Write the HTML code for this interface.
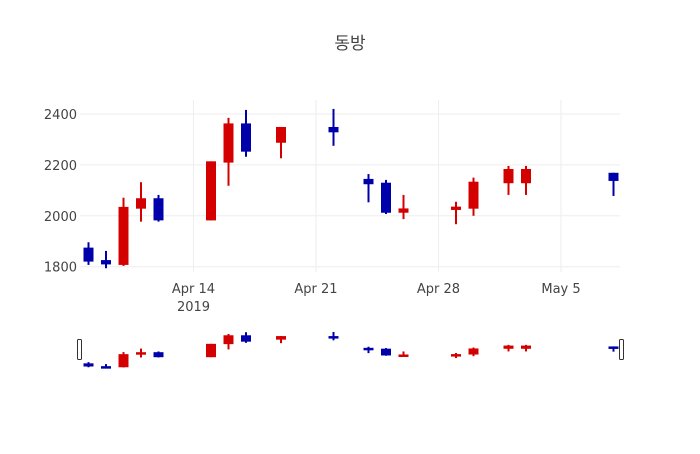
<!DOCTYPE html>
<html><head><meta charset="utf-8">
<style>
body{margin:0;background:#fff;font-family:"DejaVu Sans","Noto Sans CJK KR",sans-serif;}
svg text{font-family:"DejaVu Sans","Noto Sans CJK KR",sans-serif;}
</style></head>
<body>
<svg id="chart" width="700" height="450" xmlns="http://www.w3.org/2000/svg">
<rect width="700" height="450" fill="#fff"/>
<text x="350" y="49" text-anchor="middle" font-size="17" fill="#444">동방</text>
<g id="grid"></g>
<g id="candles"></g>
<g id="axes"></g>
<g id="slider"></g>
</svg>
<script>
const dates = ["2019-04-08","2019-04-09","2019-04-10","2019-04-11","2019-04-12","2019-04-15","2019-04-16","2019-04-17","2019-04-19","2019-04-22","2019-04-24","2019-04-25","2019-04-26","2019-04-29","2019-04-30","2019-05-02","2019-05-03","2019-05-08"];
const opens  = [1875,1826,1807,2028,2069,1982,2209,2363,2287,2349,2145,2130,2012,2023,2028,2128,2128,2169];
const highs  = [1896,1862,2071,2132,2082,2214,2385,2416,2349,2420,2164,2141,2082,2055,2150,2196,2196,2169];
const lows   = [1807,1794,1803,1977,1977,1982,2118,2232,2226,2275,2053,2007,1987,1967,2000,2082,2082,2078];
const closes = [1820,1809,2035,2069,1982,2214,2363,2252,2349,2328,2124,2012,2029,2036,2134,2184,2184,2137];
const yTicks = [1800,2000,2200,2400];
const xTickDates = ["2019-04-14","2019-04-21","2019-04-28","2019-05-05"];
const xTickLabels = ["Apr 14","Apr 21","Apr 28","May 5"];

const NS="http://www.w3.org/2000/svg";
const DAY=86400000;
const t0=Date.parse("2019-04-14");
const xL=80, xR=620;
function x(d){return 193.5+(Date.parse(d)-t0)/DAY*17.5;}
function y(v){return 266.7-(v-1800)*0.2545;}
function ys(v){return 368-(v-1794)*(36/626);}
function mk(tag,attrs,parent){const e=document.createElementNS(NS,tag);for(const k in attrs)e.setAttribute(k,attrs[k]);parent.appendChild(e);return e;}
const grid=document.getElementById('grid'),axes=document.getElementById('axes'),cg=document.getElementById('candles'),sl=document.getElementById('slider');

yTicks.forEach(v=>{
  const l=mk('line',{x1:xL,x2:xR,y1:y(v),y2:y(v),stroke:'#eee','stroke-width':1},grid);
  
  
  const t=mk('text',{x:77,y:y(v)+5,'text-anchor':'end','font-size':13,fill:'#444'},axes);
  t.textContent=v;
  
  
});
xTickDates.forEach((d,i)=>{
  const l=mk('line',{x1:x(d),x2:x(d),y1:100,y2:272,stroke:'#eee','stroke-width':1},grid);
  
  
  const t=mk('text',{x:x(d),y:293,'text-anchor':'middle','font-size':13,fill:'#444'},axes);
  t.textContent=xTickLabels[i];
  
  
});
const yr=mk('text',{x:x(xTickDates[0]),y:311,'text-anchor':'middle','font-size':13,fill:'#444'},axes);
yr.textContent="2019";



function candle(i,parent,fy,w,lw){
  const up=closes[i]>=opens[i];
  const col=up?'#d40000':'#0000aa';
  const cx=x(dates[i]);
  const g=mk('g',{},parent);
  
  
  mk('line',{x1:cx,x2:cx,y1:fy(highs[i]),y2:fy(lows[i]),stroke:col,'stroke-width':lw},g);
  const top=fy(Math.max(opens[i],closes[i])),bot=fy(Math.min(opens[i],closes[i]));
  mk('rect',{x:cx-w/2,y:top,width:w,height:Math.max(bot-top,2.5),fill:col},g);
}
for(let i=0;i<dates.length;i++){candle(i,cg,y,10,2);}
for(let i=0;i<dates.length;i++){candle(i,sl,ys,10,2);}
[xL-2,xR].forEach((hx,i)=>{
  const h=mk('rect',{x:hx-0.5,y:339.5,width:4,height:20,rx:1,fill:'#fff',stroke:'#333','stroke-width':1},sl);
  
  
});
</script>
</body></html>
